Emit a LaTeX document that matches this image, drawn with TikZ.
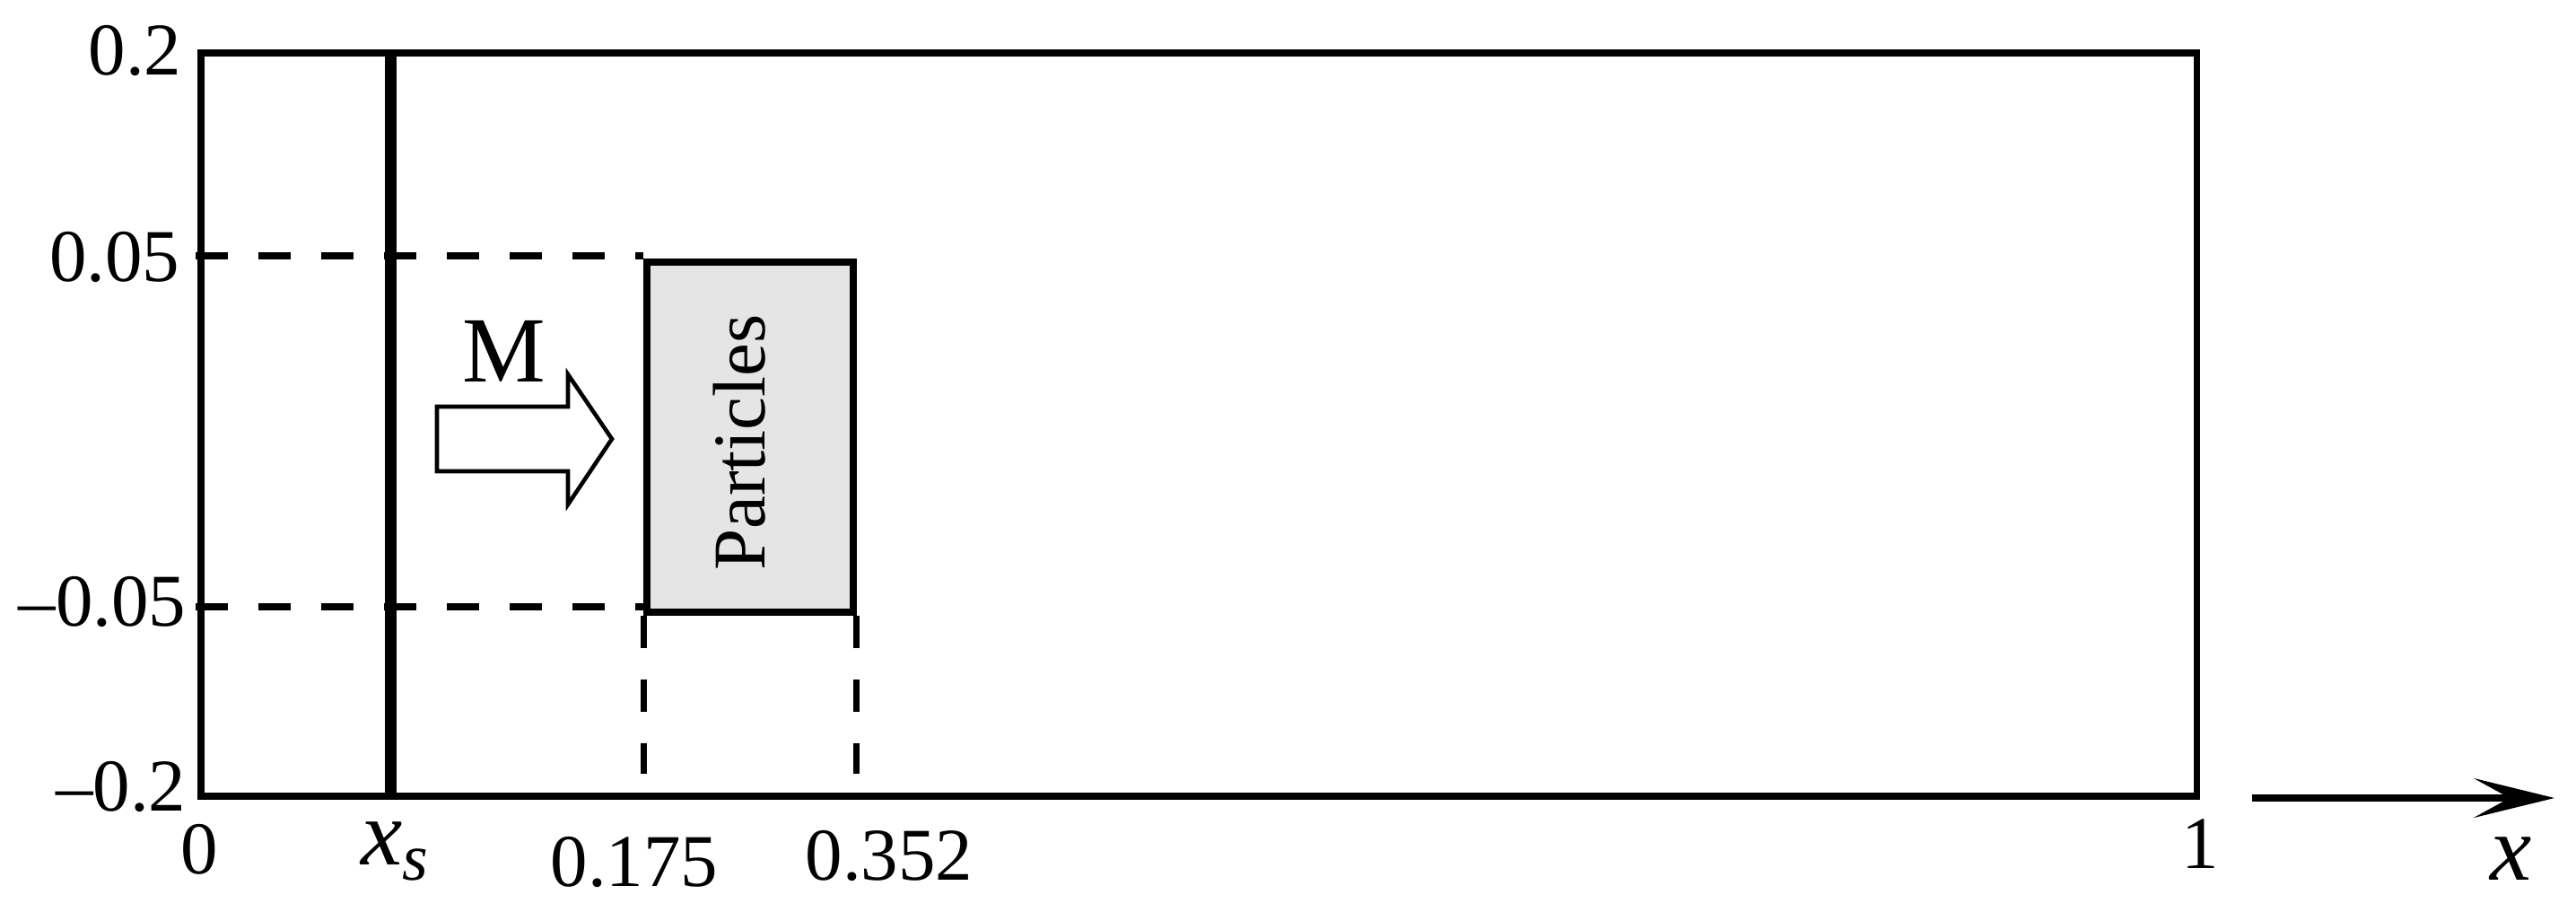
\documentclass[tikz,border=0pt]{standalone}
\usepackage{fontspec}
\setmainfont{Liberation Serif}
\usetikzlibrary{arrows.meta,positioning}

\begin{document}
\begin{tikzpicture}[
        wall/.style={line width=2pt},
        source/.style={line width=3.7pt},
        guide/.style={line width=2pt, dash pattern=on 0.36cm off 0.34cm},
        drop/.style={line width=2pt, dash pattern=on 0.36cm off 0.35cm},
        particles/.style={rectangle, draw, line width=2pt, fill=black!10, minimum width=2.30cm, minimum height=3.90cm, inner sep=0pt},
        tick/.style={inner sep=0pt, font=\fontsize{23.6}{28}\selectfont},
        big/.style={inner sep=0pt, font=\fontsize{29.6}{34}\selectfont},
        fatarrow/.style={line width=1.3pt, line join=miter},
        axis/.style={line width=2pt, -{Stealth[length=0.9cm, width=0.44cm, inset=0.4cm]}}
    ]
    \useasboundingbox (0,0) rectangle (28.71,10.15);

    % Domain
    \coordinate (sw) at (2.24,1.28);
    \coordinate (ne) at (24.48,9.56);
    \draw[wall] (sw) rectangle (ne);

    % Source line
    \coordinate (xs_bot) at (4.35,1.28);
    \coordinate (xs_top) at (4.35,9.56);

    % Particle slab
    \node[particles] (slab) at (8.36,5.28) {};
    \node[rotate=90, inner sep=0pt, font=\fontsize{23.6}{28}\selectfont] (slab_label) at (8.24,5.22) {Particles};

    % Guide lines
    \coordinate (g_top) at (2.18,7.30);
    \coordinate (g_bot) at (2.18,3.39);
    \coordinate (d_end) at (0,1.53);
    \draw[guide] (g_top) -- (g_top -| slab.west);
    \draw[guide] (g_bot) -- (g_bot -| slab.west);
    \draw[drop] (slab.south west) -- (slab.south west |- d_end);
    \draw[drop] (slab.south east) -- (slab.south east |- d_end);
    \draw[source] (xs_bot) -- (xs_top);

    % Magnetization arrow
    \draw[fatarrow] (4.87,4.90) -- (6.33,4.90) -- (6.33,4.53) -- (6.82,5.26)
        -- (6.33,5.98) -- (6.33,5.62) -- (4.87,5.62) -- cycle;
    \node[big, anchor=base] (m_label) at (5.62,5.90) {M};

    % Axis
    \coordinate (ax_start) at (25.10,1.26);
    \coordinate (ax_end) at (28.47,1.26);
    \draw[axis] (ax_start) -- (ax_end);

    % Tick labels
    \node[tick, anchor=base east] (y_top) at (2.03,9.32) {0.2};
    \node[tick, anchor=base east] (y_up) at (2.01,7.02) {0.05};
    \node[tick, anchor=base east] (y_low) at (2.08,3.18) {--0.05};
    \node[tick, anchor=base east] (y_bot) at (2.08,1.12) {--0.2};
    \node[tick, anchor=base] (x_zero) at (2.22,0.42) {0};
    \node[big, anchor=base] (x_src) at (4.40,0.52) {\textit{x}\raisebox{-0.17cm}{\fontsize{21}{24}\selectfont\textit{s}}};
    \node[tick, anchor=base] (x_left) at (7.07,0.28) {0.175};
    \node[tick, anchor=base] (x_right) at (9.91,0.35) {0.352};
    \node[tick, anchor=base] (x_one) at (24.52,0.48) {1};
    \node[big, anchor=base] (x_axis) at (27.99,0.35) {\textit{x}};

\end{tikzpicture}
\end{document}
